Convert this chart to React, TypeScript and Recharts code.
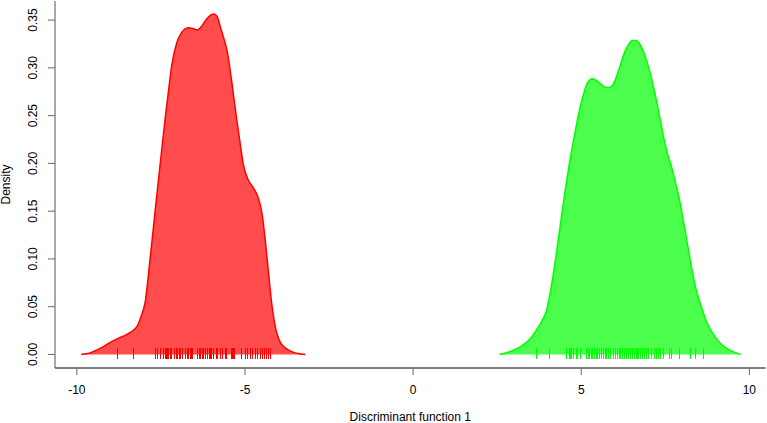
import React from 'react';
import { ComposedChart, Area, Scatter, XAxis, YAxis } from 'recharts';

// Density curve of group 1 (red)
const redX = [-9.87, -9.61, -9.31, -9.01, -8.77, -8.54, -8.33, -8.21, -8.09, -7.97, -7.82, -7.67, -7.52, -7.37, -7.27, -7.18, -7.03, -6.90, -6.69, -6.54, -6.42, -6.27, -6.13, -6.01, -5.92, -5.83, -5.74, -5.62, -5.54, -5.39, -5.26, -5.14, -5.05, -4.91, -4.76, -4.61, -4.49, -4.40, -4.31, -4.22, -4.10, -3.95, -3.74, -3.51, -3.21];
const redDensity = [0, 0.0016, 0.0063, 0.0126, 0.0168, 0.0204, 0.0251, 0.0293, 0.0398, 0.0544, 0.1005, 0.1508, 0.2, 0.248, 0.277, 0.302, 0.326, 0.336, 0.342, 0.341, 0.3396, 0.3445, 0.3518, 0.3555, 0.3563, 0.3539, 0.3437, 0.3298, 0.3193, 0.2845, 0.2495, 0.2199, 0.1989, 0.1832, 0.1748, 0.1644, 0.1466, 0.1204, 0.089, 0.0576, 0.0293, 0.0126, 0.0052, 0.0016, 0];

// Density curve of group 2 (green)
const greenX = [2.57, 2.80, 3.04, 3.25, 3.49, 3.70, 3.85, 3.96, 4.08, 4.20, 4.32, 4.44, 4.56, 4.68, 4.80, 4.92, 5.04, 5.18, 5.33, 5.45, 5.57, 5.69, 5.81, 5.93, 6.05, 6.17, 6.29, 6.41, 6.52, 6.61, 6.73, 6.85, 6.97, 7.09, 7.21, 7.33, 7.45, 7.57, 7.69, 7.80, 7.92, 8.04, 8.16, 8.28, 8.40, 8.55, 8.70, 8.91, 9.14, 9.38, 9.74];
const greenDensity = [0, 0.0021, 0.0052, 0.0094, 0.0168, 0.0272, 0.0366, 0.045, 0.0649, 0.0911, 0.1204, 0.1518, 0.1801, 0.2063, 0.2293, 0.2513, 0.2691, 0.2838, 0.2887, 0.2869, 0.2832, 0.2801, 0.2792, 0.2816, 0.2911, 0.3036, 0.3162, 0.3246, 0.3287, 0.3287, 0.3256, 0.3172, 0.3047, 0.289, 0.2701, 0.2492, 0.2272, 0.2094, 0.1958, 0.1801, 0.1623, 0.1393, 0.1152, 0.0911, 0.0702, 0.0524, 0.0366, 0.022, 0.0115, 0.0052, 0];

// Rug (individual discriminant scores)
const redRug = [-8.81, -8.32, -7.69, -7.62, -7.54, -7.43, -7.38, -7.35, -7.31, -7.28, -7.23, -7.19, -7.10, -7.05, -7.01, -6.96, -6.92, -6.88, -6.79, -6.77, -6.72, -6.68, -6.63, -6.60, -6.57, -6.42, -6.38, -6.33, -6.29, -6.24, -6.20, -6.13, -6.08, -6.04, -6.00, -5.95, -5.86, -5.82, -5.75, -5.68, -5.60, -5.55, -5.42, -5.39, -5.36, -5.32, -5.13, -5.01, -4.94, -4.86, -4.79, -4.71, -4.64, -4.56, -4.49, -4.43, -4.37, -4.32, -4.26];
const greenRug = [3.66, 4.03, 4.56, 4.63, 4.66, 4.70, 4.76, 4.83, 4.88, 4.95, 5.15, 5.20, 5.24, 5.29, 5.33, 5.39, 5.44, 5.48, 5.54, 5.60, 5.66, 5.71, 5.75, 5.81, 5.87, 5.93, 5.99, 6.05, 6.11, 6.15, 6.20, 6.26, 6.32, 6.38, 6.44, 6.50, 6.56, 6.62, 6.66, 6.70, 6.76, 6.82, 6.88, 6.93, 6.99, 7.06, 7.16, 7.22, 7.27, 7.34, 7.42, 7.62, 7.68, 7.90, 8.23, 8.38, 8.61];

const xTicks = [-10, -5, 0, 5, 10];
const yTicks = [0, 0.05, 0.1, 0.15, 0.2, 0.25, 0.3, 0.35];
const xDomain: [number, number] = [-10.65, 10.48];
const yDomain: [number, number] = [-0.0142, 0.370];

const data = [
  ...redX.map((x, i) => ({ x, red: redDensity[i], green: null as number | null })),
  ...greenX.map((x, i) => ({ x, red: null as number | null, green: greenDensity[i] })),
];
const redRugData = redRug.map((x) => ({ x, y: 0 }));
const greenRugData = greenRug.map((x) => ({ x, y: 0 }));

const FONT = 'Liberation Sans, Arial, Helvetica, sans-serif';

const YTick = (props: any) => {
  const { x, y, payload } = props;
  return (
    <text
      x={x}
      y={y}
      transform={`rotate(-90, ${x}, ${y})`}
      textAnchor="middle"
      fontFamily={FONT}
      fontSize={12}
      fill="#000"
    >
      {Number(payload.value).toFixed(2)}
    </text>
  );
};

const rugShape = (color: string) => (props: any) => {
  const { cx, cy } = props;
  const px = Math.round(cx) + 0.5;
  return (
    <line
      x1={px}
      x2={px}
      y1={cy - 6}
      y2={cy + 5}
      stroke={color}
      strokeWidth={1}
      style={{ stroke: color }}
      shapeRendering="crispEdges"
    />
  );
};

export default function App() {
  return (
    <div style={{ position: 'absolute', left: 0, top: 0, width: 767, height: 423, background: '#fff' }}>
      <ComposedChart
        width={767}
        height={423}
        data={data}
        margin={{ top: 1, right: 1.5, bottom: 0, left: 0 }}
      >
        <XAxis
          dataKey="x"
          type="number"
          domain={xDomain}
          allowDataOverflow
          ticks={xTicks}
          height={55}
          tickSize={7}
          tickMargin={10.5}
          axisLine={{ stroke: '#000' }}
          tickLine={{ stroke: '#666' }}
          tick={{ fill: '#000', fontSize: 12, fontFamily: FONT }}
          label={{
            content: (p: any) => {
              const vb = p.viewBox;
              return (
                <text
                  x={vb.x + vb.width / 2}
                  y={vb.y + 53}
                  textAnchor="middle"
                  fontFamily={FONT}
                  fontSize={12}
                  fill="#000"
                >
                  Discriminant function 1
                </text>
              );
            },
          }}
        />
        <XAxis
          xAxisId="top"
          orientation="top"
          type="number"
          domain={xDomain}
          allowDataOverflow
          height={0}
          tick={false}
          tickLine={false}
          axisLine={{ stroke: '#999' }}
        />
        <YAxis
          dataKey="y"
          type="number"
          domain={yDomain}
          allowDataOverflow
          ticks={yTicks}
          width={55}
          tickSize={7}
          tickMargin={10.5}
          axisLine={{ stroke: '#555' }}
          tickLine={{ stroke: '#666' }}
          tick={<YTick />}
          label={{
            content: (p: any) => {
              const vb = p.viewBox;
              const cx = 9.5;
              const cy = vb.y + vb.height / 2;
              return (
                <text
                  x={cx}
                  y={cy}
                  transform={`rotate(-90, ${cx}, ${cy})`}
                  textAnchor="middle"
                  fontFamily={FONT}
                  fontSize={12}
                  fill="#000"
                >
                  Density
                </text>
              );
            },
          }}
        />
        <YAxis
          yAxisId="right"
          orientation="right"
          type="number"
          domain={yDomain}
          allowDataOverflow
          width={0}
          tick={false}
          tickLine={false}
          axisLine={{ stroke: '#555' }}
        />
        <Area
          type="monotone"
          dataKey="red"
          stroke="#ff0000"
          strokeWidth={1.5}
          fill="#ff0000"
          fillOpacity={0.7}
          connectNulls={false}
          isAnimationActive={false}
          dot={false}
          activeDot={false}
        />
        <Area
          type="monotone"
          dataKey="green"
          stroke="#00ff00"
          strokeWidth={1.5}
          fill="#00ff00"
          fillOpacity={0.7}
          connectNulls={false}
          isAnimationActive={false}
          dot={false}
          activeDot={false}
        />
        <Scatter data={redRugData} dataKey="y" fill="#ff0000" stroke="#ff0000" shape={rugShape('#ff0000')} isAnimationActive={false} />
        <Scatter data={greenRugData} dataKey="y" fill="#00ff00" stroke="#00ff00" shape={rugShape('#00ff00')} isAnimationActive={false} />
      </ComposedChart>
    </div>
  );
}
